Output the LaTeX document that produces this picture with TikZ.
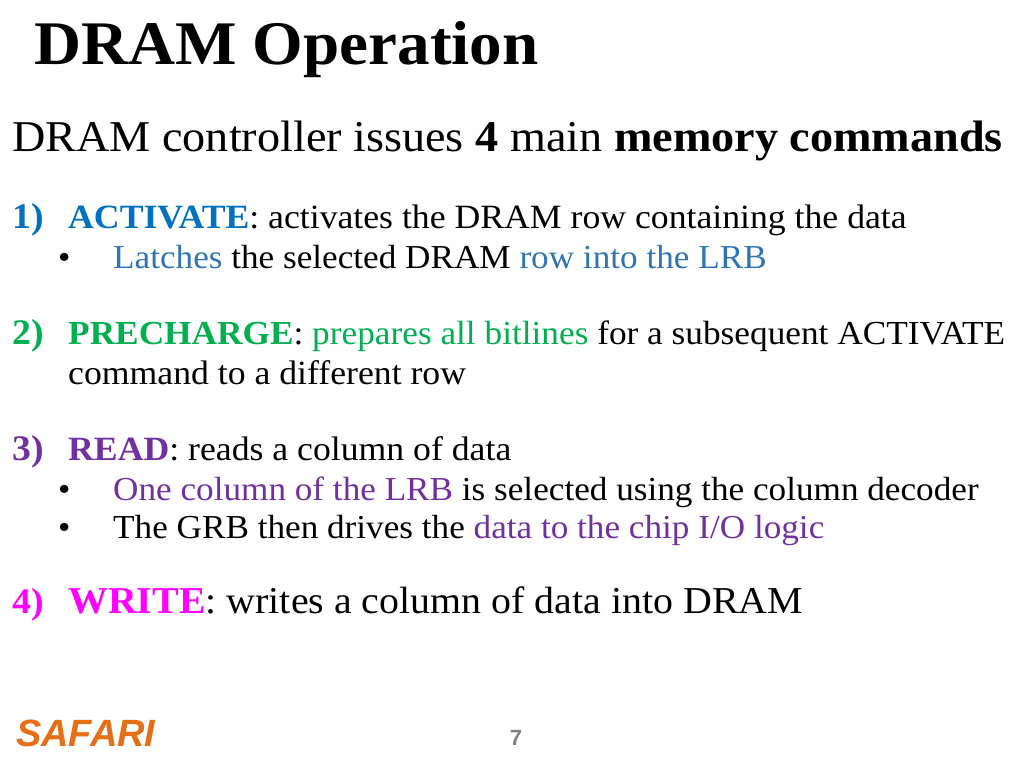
\documentclass[tikz,border=0pt]{standalone}
\usepackage{fontspec}
\setmainfont[FakeStretch=1.05]{Liberation Serif}
\newfontfamily\logofont{Liberation Sans}
\definecolor{actblue}{RGB}{0,112,192}
\definecolor{lightblue}{RGB}{46,117,182}
\definecolor{pregreen}{RGB}{0,176,80}
\definecolor{readpurple}{RGB}{112,48,160}
\definecolor{writepink}{RGB}{255,0,255}
\definecolor{safari}{RGB}{230,110,20}
\tikzset{
  line/.style={anchor=base west, inner sep=0pt, font=\fontsize{34}{40}\selectfont},
  subline/.style={anchor=base west, inner sep=0pt, font=\fontsize{33.5}{38}\selectfont},
  num/.style={anchor=base west, inner sep=0pt, font=\fontsize{36}{40}\selectfont\bfseries},
}
\begin{document}
\begin{tikzpicture}[x=1pt,y=-1pt]
  \useasboundingbox (0,0) rectangle (1024,768);
  \node[anchor=base west, inner sep=0pt, font=\fontsize{62}{70}\selectfont\bfseries] (Title) at (34,64) {DRAM Operation};
  \node[anchor=base west, inner sep=0pt, font=\fontsize{44}{48}\selectfont] (Intro) at (12,151) {DRAM controller issues \textbf{4} main \textbf{memory commands}};

  \node[num, text=actblue] (NumAct) at (12,228) {1)};
  \node[line] (Act) at (68,228) {\textcolor{actblue}{\bfseries ACTIVATE}: activates the DRAM row containing the data};
  \node[subline] (BulAct) at (58,268) {\textbullet};
  \node[subline] (SubAct) at (113,268) {\textcolor{lightblue}{Latches} the selected DRAM \textcolor{lightblue}{row into the LRB}};

  \node[num, text=pregreen] (NumPre) at (12,344) {2)};
  \node[line, font=\fontsize{33.6}{40}\selectfont] (Pre) at (68,344) {\textcolor{pregreen}{\bfseries PRECHARGE}: \textcolor{pregreen}{prepares all bitlines} for a subsequent ACTIVATE};
  \node[line] (PreB) at (68,384) {command to a different row};

  \node[num, text=readpurple] (NumRead) at (12,460) {3)};
  \node[line] (Read) at (68,460) {\textcolor{readpurple}{\bfseries READ}: reads a column of data};
  \node[subline] (BulReadA) at (58,500) {\textbullet};
  \node[subline] (SubReadA) at (113,500) {\textcolor{readpurple}{One column of the LRB} is selected using the column decoder};
  \node[subline] (BulReadB) at (58,538) {\textbullet};
  \node[subline] (SubReadB) at (113,538) {The GRB then drives the \textcolor{readpurple}{data to the chip I/O logic}};

  \node[num, text=writepink] (NumWrite) at (12,613) {4)};
  \node[line, font=\fontsize{38}{42}\selectfont] (Write) at (68,613) {\textcolor{writepink}{\bfseries WRITE}: writes a column of data into DRAM};

  \node[anchor=base west, inner sep=0pt, text=safari, font=\logofont\fontsize{38}{40}\selectfont\bfseries\itshape] (Logo) at (16,746) {SAFARI};
  \node[anchor=base, inner sep=0pt, text=gray, font=\logofont\fontsize{22}{24}\selectfont\bfseries] (Page) at (516,745) {7};
\end{tikzpicture}
\end{document}
